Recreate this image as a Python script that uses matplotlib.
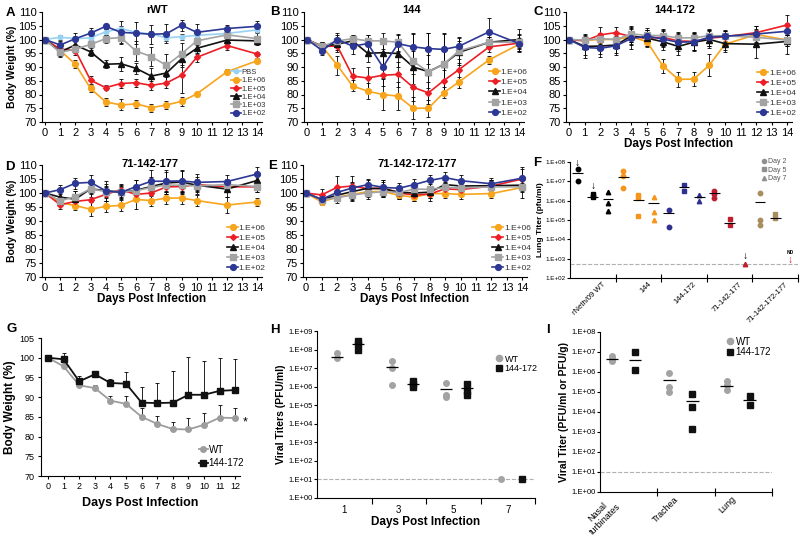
import numpy as np
import matplotlib
matplotlib.use('Agg')
import matplotlib.pyplot as plt
from matplotlib.lines import Line2D
from matplotlib.ticker import FuncFormatter, NullLocator
from matplotlib.transforms import ScaledTranslation

plt.rcParams['font.family'] = ['Liberation Sans', 'DejaVu Sans']

# ---- weight curves (panels A-E) ----
days = [0, 1, 2, 3, 4, 5, 6, 7, 8, 9, 10, 12, 14]
doses = ['1.E+06', '1.E+05', '1.E+04', '1.E+03', '1.E+02']

A_pbs = [100, 100.8, 100.3, 100.6, 102.8, 104.0, 102.6, 102.0, 100.6, 101.0, 101.5, 102.2, 103.5]
A_pbs_err = [0, 0.8, 0.8, 0.8, 1.0, 1.0, 1.0, 1.0, 1.0, 1.0, 0.8, 0.8, 0.8]
A_e6 = [100, 96.0, 91.0, 82.2, 77.3, 76.2, 76.6, 75.2, 76.2, 77.5, 80.2, 88.3, 92.3]
A_e6_err = [0, 1.0, 1.5, 1.2, 1.5, 2.0, 1.5, 1.5, 1.5, 1.5, 0.8, 0.8, 0.8]
A_e5 = [100, 96.5, 96.0, 85.2, 82.5, 84.0, 84.3, 83.3, 84.2, 87.0, 93.5, 97.8, 94.7]
A_e5_err = [0, 1.0, 1.5, 1.5, 1.0, 1.5, 1.5, 1.5, 2.0, 6.5, 1.5, 1.5, 0.8]
A_e4 = [100, 95.5, 98.0, 95.5, 91.0, 91.2, 89.5, 86.7, 87.8, 93.0, 96.8, 99.8, 99.5]
A_e4_err = [0, 1.5, 1.5, 1.5, 1.5, 2.5, 2.0, 3.0, 3.5, 3.0, 2.0, 1.5, 1.5]
A_e3 = [100, 95.3, 96.5, 98.2, 100.3, 100.7, 95.8, 93.8, 90.6, 94.8, 99.5, 101.7, 100.3]
A_e3_err = [0, 1.5, 1.5, 2.0, 1.5, 2.5, 3.5, 3.5, 4.0, 4.0, 1.5, 1.5, 2.0]
A_e2 = [100, 98.0, 100.3, 102.3, 104.8, 102.6, 102.3, 101.9, 102.1, 105.2, 102.6, 104.0, 104.8]
A_e2_err = [0, 1.5, 2.0, 2.0, 1.0, 4.0, 4.0, 3.5, 3.5, 2.0, 3.0, 1.2, 2.0]

B_e6 = [100, 97.5, 90.6, 83.1, 81.2, 80.0, 79.4, 75.0, 75.0, 80.6, 84.5, 92.6, 98.3]
B_e6_err = [0, 1.0, 3.5, 2.0, 3.0, 5.5, 5.0, 4.0, 3.0, 2.0, 2.0, 1.5, 1.5]
B_e5 = [100, 97.5, 97.6, 86.7, 86.0, 87.0, 87.3, 82.6, 80.6, 85.0, 89.0, 97.3, 98.7]
B_e5_err = [0, 1.5, 2.0, 3.0, 4.0, 4.0, 4.5, 5.0, 4.0, 4.0, 4.0, 2.0, 2.0]
B_e4 = [100, 97.5, 98.3, 99.5, 95.0, 95.2, 94.9, 90.0, 88.3, 91.0, 95.3, 99.0, 100.0]
B_e4_err = [0, 1.5, 2.0, 2.0, 3.0, 4.0, 5.0, 6.0, 6.0, 6.0, 4.0, 2.0, 4.0]
B_e3 = [100, 97.5, 99.5, 100.3, 99.5, 99.5, 99.0, 92.1, 88.2, 91.0, 95.8, 99.0, 99.0]
B_e3_err = [0, 1.5, 2.0, 1.5, 2.0, 3.0, 3.0, 10.0, 14.0, 11.0, 5.0, 2.0, 3.0]
B_e2 = [100, 96.0, 100.0, 97.6, 98.5, 90.0, 98.5, 97.3, 96.7, 96.4, 97.5, 102.8, 98.5]
B_e2_err = [0, 1.5, 2.5, 3.0, 3.0, 4.0, 3.0, 5.0, 5.5, 6.0, 3.0, 5.0, 3.0]

C_e6 = [100, 99.7, 100.0, 100.0, 101.0, 99.2, 90.5, 85.5, 85.6, 90.7, 98.3, 101.8, 99.8]
C_e6_err = [0, 1.0, 1.0, 1.0, 2.0, 2.0, 2.5, 2.8, 2.5, 4.0, 2.0, 2.0, 2.0]
C_e5 = [100, 99.5, 101.7, 102.5, 101.0, 100.5, 100.8, 99.5, 99.3, 100.5, 101.0, 102.5, 105.3]
C_e5_err = [0, 2.5, 3.0, 2.0, 3.0, 3.0, 3.0, 3.0, 3.0, 3.0, 2.0, 2.5, 3.5]
C_e4 = [100, 97.5, 97.6, 98.0, 101.3, 100.5, 99.2, 97.5, 99.0, 100.0, 98.5, 98.3, 99.3]
C_e4_err = [0, 3.0, 3.0, 3.0, 3.0, 3.0, 3.0, 3.0, 3.0, 3.0, 3.0, 5.0, 4.5]
C_e3 = [100, 99.8, 100.3, 100.0, 102.0, 101.5, 101.4, 100.6, 100.6, 101.4, 101.3, 100.8, 99.8]
C_e3_err = [0, 2.0, 2.0, 2.0, 3.0, 2.0, 2.0, 2.0, 2.0, 2.0, 2.0, 2.0, 2.0]
C_e2 = [100, 97.1, 96.8, 97.7, 100.4, 101.2, 100.2, 99.0, 99.2, 100.8, 101.2, 102.0, 103.0]
C_e2_err = [0, 4.0, 3.0, 3.5, 4.0, 3.0, 3.0, 3.0, 3.0, 3.0, 2.0, 3.0, 3.0]

D_e6 = [100, 96.5, 95.5, 94.2, 95.2, 95.6, 97.7, 97.3, 98.2, 98.2, 97.3, 95.7, 96.8]
D_e6_err = [0, 1.0, 1.5, 2.5, 2.0, 2.0, 3.5, 2.0, 2.0, 2.0, 2.0, 3.0, 1.5]
D_e5 = [100, 95.8, 97.0, 97.6, 99.5, 101.2, 99.5, 100.0, 102.2, 102.3, 103.0, 102.2, 102.2]
D_e5_err = [0, 1.5, 2.0, 2.5, 2.5, 2.0, 2.5, 2.5, 2.5, 2.5, 2.0, 2.0, 2.0]
D_e4 = [100, 98.5, 97.8, 101.5, 100.8, 100.3, 101.0, 102.3, 103.6, 103.9, 102.8, 101.4, 104.5]
D_e4_err = [0, 2.0, 3.0, 3.0, 3.5, 2.5, 3.5, 3.5, 4.0, 4.0, 3.0, 3.0, 3.0]
D_e3 = [100, 97.2, 98.7, 101.5, 100.5, 100.5, 100.8, 102.0, 102.8, 102.8, 102.5, 103.0, 102.3]
D_e3_err = [0, 1.5, 2.0, 2.0, 2.0, 2.0, 2.0, 2.0, 2.0, 2.0, 2.0, 2.0, 2.0]
D_e2 = [100, 101.2, 103.5, 103.8, 100.8, 100.2, 102.3, 104.2, 104.2, 104.3, 103.8, 104.1, 106.8]
D_e2_err = [0, 1.5, 2.0, 2.5, 2.5, 2.0, 2.5, 4.0, 4.0, 4.0, 3.0, 2.5, 2.5]

E_e6 = [100, 96.8, 98.5, 99.5, 100.5, 100.5, 99.2, 98.5, 99.8, 99.8, 99.5, 99.8, 102.0]
E_e6_err = [0, 1.0, 1.5, 1.5, 1.5, 1.5, 1.5, 1.5, 1.5, 1.5, 1.5, 1.5, 1.5]
E_e5 = [100, 99.3, 102.0, 102.5, 101.5, 101.8, 100.0, 99.3, 99.6, 101.5, 101.2, 102.5, 105.0]
E_e5_err = [0, 2.0, 4.0, 3.5, 3.0, 3.0, 2.0, 2.0, 2.5, 2.0, 2.0, 2.0, 3.5]
E_e4 = [100, 97.7, 99.2, 100.5, 101.7, 101.5, 100.3, 100.0, 100.3, 103.0, 102.5, 102.6, 102.8]
E_e4_err = [0, 1.5, 2.0, 3.0, 2.0, 3.0, 2.0, 2.0, 2.0, 2.0, 2.0, 2.0, 2.0]
E_e3 = [100, 97.5, 98.3, 99.3, 100.0, 100.5, 100.2, 101.4, 101.3, 102.0, 101.8, 102.2, 102.2]
E_e3_err = [0, 1.5, 2.0, 2.0, 2.0, 2.0, 2.0, 2.0, 2.0, 2.0, 2.0, 2.0, 4.0]
E_e2 = [100, 97.7, 100.2, 101.8, 103.0, 102.0, 101.7, 103.0, 104.5, 105.5, 104.4, 103.3, 105.3]
E_e2_err = [0, 1.5, 2.0, 2.0, 2.0, 2.0, 2.0, 2.0, 2.0, 2.0, 2.0, 2.0, 4.0]

# ---- lung titers (panel F) ----
F_groups = ['rNeth/09 WT', '144', '144-172', '71-142-177', '71-142-172-177']
F_day2 = [[4.5e7, 1.1e7], [3.4e7, 1.8e7, 4.5e6], [3.2e5, 4.1e4], [3.2e6, 2.1e6, 1.4e6], [2.5e6, 1.0e5, 5.6e4]]
F_day2_mean = [2.8e7, 1.6e7, 2.2e5, 2.4e6, 8.5e5]
F_day5 = [[2.1e6, 1.7e6, 1.5e6], [2.0e6, 1.3e6, 1.6e5], [6.5e6, 3.2e6], [1.1e5, 5.5e4], [2.0e5, 1.2e5]]
F_day5_mean = [1.6e6, 1.1e6, 4.8e6, 7.0e4, 1.3e5]
F_day7 = [[2.8e6, 7.2e5, 3.0e5], [1.6e6, 2.6e5, 9.5e4], [2.0e6, 9.5e5], [5e2], []]
F_day7_mean = [1.2e6, 7.2e5, 1.5e6, None, None]
F_limit = 5e2

# ---- weight, WT vs 144-172 (panel G) ----
G_days = [0, 1, 2, 3, 4, 5, 6, 7, 8, 9, 10, 11, 12]
G_wt = [100, 97.8, 93.0, 92.3, 89.1, 88.3, 85.0, 83.2, 81.9, 81.8, 83.0, 84.8, 84.7]
G_wt_err = [0, 0.5, 0.6, 0.7, 1.1, 2.1, 2.3, 2.1, 1.8, 3.0, 2.9, 3.2, 2.6]
G_mut = [100, 99.6, 94.0, 95.8, 93.6, 93.4, 88.6, 88.5, 88.6, 90.6, 90.6, 91.6, 91.8]
G_mut_err = [0, 1.5, 1.4, 0.2, 0.9, 2.9, 4.0, 5.0, 8.1, 9.7, 8.6, 8.4, 7.9]

# ---- viral titers by day (panel H) ----
H_days = ['1', '3', '5', '7']
H_wt = [[6.3e7, 3.4e7], [2.3e7, 1.0e7, 1.2e6], [1.6e6, 3.4e5, 2.7e5], [1e1]]
H_wt_mean = [4.2e7, 1.1e7, 7.5e5, None]
H_mut = [[3.0e8, 2.0e8, 1.0e8], [2.1e6, 1.4e6, 9.2e5], [1.4e6, 5.6e5, 3.7e5], [1e1]]
H_mut_mean = [2.0e8, 1.4e6, 8.5e5, None]

# ---- viral titers by tissue (panel I) ----
I_tissues = ['Nasal\nturbinates', 'Trachea', 'Lung']
I_wt = [[6.0e6, 4.7e6, 3.5e6], [9.3e5, 1.7e5, 1.0e5], [3.4e5, 2.3e5, 1.3e5]]
I_wt_mean = [4.3e6, 3.8e5, 2.1e5]
I_mut = [[1.0e7, 1.3e6], [8.3e4, 1.7e4, 1.4e3], [6.0e4, 2.3e4]]
I_mut_mean = [4.2e6, 3.4e4, 4.2e4]

ORANGE = '#f7a51c'
RED = '#ec1f26'
BLACK = '#111111'
GRAY = '#a3a3a3'
NAVY = '#2d3894'
PBS_BLUE = '#98d2f2'
dose_style = {
    '1.E+06': (ORANGE, 'o', 4.2),
    '1.E+05': (RED, 'D', 3.0),
    '1.E+04': (BLACK, '^', 4.0),
    '1.E+03': (GRAY, 's', 4.2),
    '1.E+02': (NAVY, 'o', 4.2),
}

W, H = 800, 541
fig = plt.figure(figsize=(8, 5.41), dpi=100)


def px_axes(x0, y0, x1, y1):
    return fig.add_axes([x0 / W, 1 - y1 / H, (x1 - x0) / W, (y1 - y0) / H])


def fig_text(x, y, s, **kw):
    fig.text(x / W, 1 - y / H, s, **kw)


def clean(ax):
    ax.spines['top'].set_visible(False)
    ax.spines['right'].set_visible(False)
    for s in ('left', 'bottom'):
        ax.spines[s].set_linewidth(0.8)


def weight_panel(ax, series, legend_fs=6, spacing=0.2, xlabel=False, ylabel=False):
    handles = []
    for label, vals, errs in series:
        color, marker, ms = dose_style.get(label, (PBS_BLUE, 'o', 3.2))
        ax.errorbar(days, vals, yerr=errs, color=color, marker=marker, ms=ms, lw=1.2,
                    ecolor='black', elinewidth=0.6, capsize=1.5, capthick=0.6)
        handles.append(Line2D([], [], color=color, marker=marker, ms=ms, lw=1.2, label=label))
    ax.set_xlim(-0.2, 14.3)
    ax.set_ylim(70, 110)
    ax.set_xticks(range(15))
    ax.set_yticks(range(70, 111, 5))
    ax.tick_params(labelsize=8, length=2.5, width=0.8, pad=1.5)
    clean(ax)
    leg = ax.legend(handles=handles, loc='lower right', bbox_to_anchor=(1.04, 0.0),
                    fontsize=legend_fs, frameon=False, handlelength=1.3, handletextpad=0.1,
                    labelspacing=spacing, borderpad=0.1)
    for t in leg.get_texts():
        t.set_color('#333333')
    if xlabel:
        ax.set_xlabel('Days Post Infection', fontsize=8.5, fontweight='bold', labelpad=0)
    if ylabel:
        ax.set_ylabel('Body Weight (%)', fontsize=7.5, fontweight='bold', labelpad=1)


def pack(names, *cols):
    return list(zip(names, *cols))


axA = px_axes(42, 12, 262, 122)
weight_panel(axA, [('PBS', A_pbs, A_pbs_err)] +
             pack(doses, [A_e6, A_e5, A_e4, A_e3, A_e2],
                  [A_e6_err, A_e5_err, A_e4_err, A_e3_err, A_e2_err]),
             legend_fs=5.5, spacing=0.12, ylabel=True)

axB = px_axes(304, 12, 524, 122)
weight_panel(axB, pack(doses, [B_e6, B_e5, B_e4, B_e3, B_e2],
                       [B_e6_err, B_e5_err, B_e4_err, B_e3_err, B_e2_err]), spacing=0.3)

axC = px_axes(566, 12, 792, 122)
weight_panel(axC, pack(doses, [C_e6, C_e5, C_e4, C_e3, C_e2],
                       [C_e6_err, C_e5_err, C_e4_err, C_e3_err, C_e2_err]),
             spacing=0.25, xlabel=True)

axD = px_axes(42, 165, 262, 277)
weight_panel(axD, pack(doses, [D_e6, D_e5, D_e4, D_e3, D_e2],
                       [D_e6_err, D_e5_err, D_e4_err, D_e3_err, D_e2_err]),
             spacing=0.25, xlabel=True, ylabel=True)

axE = px_axes(303, 165, 527, 277)
weight_panel(axE, pack(doses, [E_e6, E_e5, E_e4, E_e3, E_e2],
                       [E_e6_err, E_e5_err, E_e4_err, E_e3_err, E_e2_err]),
             spacing=0.25, xlabel=True)

etick = FuncFormatter(lambda v, p: '1.E+%02d' % int(round(np.log10(v))))

# ---- panel F ----
axF = px_axes(570, 162, 798, 278)
F_colors = ['black', '#f7941d', '#2e3192', '#be1e2d', '#aa8d5e']
for g, color in enumerate(F_colors):
    for d, (pts, means, mk) in enumerate([(F_day2, F_day2_mean, 'o'),
                                          (F_day5, F_day5_mean, 's'),
                                          (F_day7, F_day7_mean, '^')]):
        x = 3 * g + d
        if pts[g]:
            axF.plot([x] * len(pts[g]), pts[g], ls='none', marker=mk, ms=3.2, color=color)
        if means[g]:
            axF.hlines(means[g], x - 0.35, x + 0.35, color='black', lw=0.8)
axF.axhline(F_limit, color='#b0b0b0', ls='--', lw=0.8, zorder=0)
for x, y, c in [(0, 9e7, 'black'), (1, 5.5e6, 'black'), (11, 1.3e3, 'black'), (14, 9e2, RED)]:
    axF.text(x, y, '\u2193', color=c, fontsize=7.5, fontweight='bold', ha='center', va='center')
axF.text(14, 1.5e3, 'ND', fontsize=3.5, fontweight='bold', ha='center', va='bottom')
axF.set_yscale('log')
axF.set_ylim(1e2, 1e8)
axF.set_xlim(-0.5, 14.5)
axF.set_yticks([10.0 ** k for k in range(2, 9)])
axF.yaxis.set_minor_locator(NullLocator())
axF.yaxis.set_major_formatter(etick)
axF.set_xticks([2.5, 5.5, 8.5, 11.5, 14.5])
axF.set_xticklabels([])
axF.set_xticks([1, 4, 7, 10, 13], minor=True)
axF.set_xticklabels(F_groups, minor=True, rotation=45, ha='right', fontsize=5.5)
axF.tick_params(axis='x', which='major', direction='inout', length=6, width=0.8)
axF.tick_params(axis='x', which='minor', length=0, pad=2)
axF.tick_params(axis='y', labelsize=4.5, length=2, width=0.8, pad=1)
for lbl in axF.get_xticklabels(minor=True):
    lbl.set_transform(lbl.get_transform() + ScaledTranslation(0.14, 0, fig.dpi_scale_trans))
axF.set_ylabel('Lung Titer (pfu/ml)', fontsize=6, fontweight='bold', labelpad=1)
clean(axF)
F_handles = [Line2D([], [], ls='none', marker=mk, ms=3, color='#909090', label=lab)
             for mk, lab in [('o', 'Day 2'), ('s', 'Day 5'), ('^', 'Day 7')]]
legF = axF.legend(handles=F_handles, loc='upper left', bbox_to_anchor=(758 / W, 1 - 155 / H),
                  bbox_transform=fig.transFigure, fontsize=5, frameon=False,
                  handlelength=0.6, handletextpad=0.3, labelspacing=0.2, borderpad=0)
for t in legF.get_texts():
    t.set_color('#555555')

# ---- panel G ----
axG = px_axes(41, 338, 240, 476)
axG.errorbar(G_days, G_wt, yerr=[np.zeros(len(G_wt)), G_wt_err], color='#9d9d9d', marker='o',
             ms=4, lw=1.3, ecolor='black', elinewidth=0.6, capsize=1.5, capthick=0.6)
axG.errorbar(G_days, G_mut, yerr=[np.zeros(len(G_mut)), G_mut_err], color=BLACK, marker='s',
             ms=4.5, lw=1.3, ecolor='black', elinewidth=0.6, capsize=1.5, capthick=0.6)
axG.set_xlim(-0.45, 12.3)
axG.set_ylim(70, 105)
axG.set_xticks(range(13))
axG.set_yticks(range(70, 106, 5))
axG.tick_params(labelsize=6.5, length=2.5, width=0.8, pad=2)
axG.set_ylabel('Body Weight (%)', fontsize=8.5, fontweight='bold', labelpad=3)
axG.set_xlabel('Days Post Infection', fontsize=9, fontweight='bold', labelpad=4)
clean(axG)
axG.text(12.6, 83.5, '*', fontsize=9, ha='center', va='center', clip_on=False)
G_handles = [Line2D([], [], color='#9d9d9d', marker='o', ms=4, lw=1.3, label='WT'),
             Line2D([], [], color=BLACK, marker='s', ms=4.5, lw=1.3, label='144-172')]
axG.legend(handles=G_handles, loc='upper left', bbox_to_anchor=(194 / W, 1 - 440 / H),
           bbox_transform=fig.transFigure, fontsize=7, frameon=False, handlelength=0.9,
           handletextpad=0.1, labelspacing=0.35, borderpad=0)

# ---- panel H ----
axH = px_axes(317, 331, 535, 498)
for k in range(4):
    axH.plot([k + 0.37] * len(H_wt[k]), H_wt[k], ls='none', marker='o', ms=4, color=GRAY)
    axH.plot([k + 0.76] * len(H_mut[k]), H_mut[k], ls='none', marker='s', ms=4, color=BLACK)
    if H_wt_mean[k]:
        axH.hlines(H_wt_mean[k], k + 0.26, k + 0.48, color='black', lw=0.9)
    if H_mut_mean[k]:
        axH.hlines(H_mut_mean[k], k + 0.65, k + 0.87, color='black', lw=0.9)
axH.axhline(1e1, color='#b0b0b0', ls='--', lw=0.8, zorder=0)
axH.set_yscale('log')
axH.set_ylim(1e0, 1e9)
axH.set_xlim(0, 4)
axH.set_yticks([10.0 ** k for k in range(0, 10)])
axH.yaxis.set_minor_locator(NullLocator())
axH.yaxis.set_major_formatter(etick)
axH.set_xticks([1, 2, 3, 4])
axH.set_xticklabels([])
axH.set_xticks([0.5, 1.5, 2.5, 3.5], minor=True)
axH.set_xticklabels(H_days, minor=True, fontsize=7)
axH.tick_params(axis='x', which='major', direction='out', length=4, width=0.8)
axH.tick_params(axis='x', which='minor', length=0, pad=5)
axH.tick_params(axis='y', labelsize=5.5, length=2, width=0.8, pad=1)
axH.set_ylabel('Viral Titers (PFU/ml)', fontsize=7.5, fontweight='bold', labelpad=2)
axH.set_xlabel('Days Post Infection', fontsize=8.5, fontweight='bold', labelpad=1)
clean(axH)
HI_handles = [Line2D([], [], ls='none', marker='o', ms=4.5, color=GRAY, label='WT'),
              Line2D([], [], ls='none', marker='s', ms=4.5, color=BLACK, label='144-172')]
axH.legend(handles=HI_handles, loc='upper left', bbox_to_anchor=(492 / W, 1 - 350 / H),
           bbox_transform=fig.transFigure, fontsize=6.5, frameon=False, handlelength=0.6,
           handletextpad=0.3, labelspacing=0.1, borderpad=0)

# ---- panel I ----
axI = px_axes(600, 332, 772, 492)
for k in range(3):
    axI.plot([k + 0.21] * len(I_wt[k]), I_wt[k], ls='none', marker='o', ms=4, color=GRAY)
    axI.plot([k + 0.61] * len(I_mut[k]), I_mut[k], ls='none', marker='s', ms=4, color=BLACK)
    axI.hlines(I_wt_mean[k], k + 0.10, k + 0.32, color='black', lw=0.9)
    axI.hlines(I_mut_mean[k], k + 0.50, k + 0.72, color='black', lw=0.9)
axI.axhline(1e1, color='#b0b0b0', ls='--', lw=0.8, zorder=0)
axI.set_yscale('log')
axI.set_ylim(1e0, 1e8)
axI.set_xlim(0, 3)
axI.set_yticks([10.0 ** k for k in range(0, 9)])
axI.yaxis.set_minor_locator(NullLocator())
axI.yaxis.set_major_formatter(etick)
axI.set_xticks([1, 2, 3])
axI.set_xticklabels([])
axI.set_xticks([0.5, 1.5, 2.5], minor=True)
axI.set_xticklabels(I_tissues, minor=True, rotation=45, ha='right', fontsize=6.5,
                    multialignment='center')
axI.tick_params(axis='x', which='major', direction='inout', length=6, width=0.8)
axI.tick_params(axis='x', which='minor', length=0, pad=2)
axI.tick_params(axis='y', labelsize=5.5, length=2, width=0.8, pad=1)
for lbl in axI.get_xticklabels(minor=True):
    lbl.set_transform(lbl.get_transform() + ScaledTranslation(-0.06, 0, fig.dpi_scale_trans))
axI.set_ylabel('Viral Titer (PFU/ml or PFU/g)', fontsize=7.5, fontweight='bold', labelpad=2)
clean(axI)
axI.legend(handles=HI_handles, loc='upper left', bbox_to_anchor=(722 / W, 1 - 332 / H),
           bbox_transform=fig.transFigure, fontsize=7, frameon=False, handlelength=0.6,
           handletextpad=0.3, labelspacing=0.05, borderpad=0)

# ---- titles and panel letters ----
for x, y, s in [(157, 10, 'rWT'), (412, 10, '144'), (675, 10, '144-172'),
                (150, 164, '71-142-177'), (417, 164, '71-142-172-177')]:
    fig_text(x, y, s, fontsize=8, fontweight='bold', ha='center', va='center')
for x, y, s in [(10, 13, 'A'), (275, 12, 'B'), (538, 12, 'C'), (10, 167, 'D'), (273, 166, 'E'),
                (537, 163, 'F'), (12, 329, 'G'), (275, 330, 'H'), (548, 330, 'I')]:
    fig_text(x, y, s, fontsize=9.5, fontweight='bold', ha='center', va='center')

fig.savefig('out.png', dpi=100, facecolor='white')
